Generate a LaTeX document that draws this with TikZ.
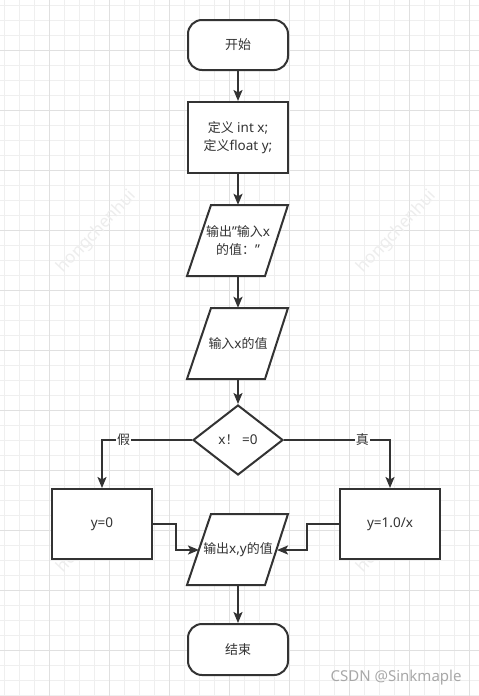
\documentclass[tikz,border=0pt]{standalone}
\usepackage{fontspec}
\setmainfont{Noto Sans}
\newfontfamily\cjk{Noto Sans CJK SC}[Scale=0.96]
\usetikzlibrary{arrows.meta,shapes.geometric}
\definecolor{ink}{HTML}{333333}
\definecolor{gridminor}{HTML}{EFEFEF}
\definecolor{gridmajor}{HTML}{E0E0E0}
\definecolor{wmark}{HTML}{EDEDED}
\definecolor{csdn}{HTML}{A8A8A8}
\tikzset{
  shapeline/.style={draw=ink, line width=2pt, fill=white},
  txt/.style={text=ink, font=\fontsize{13.5}{18}\selectfont, align=center},
  terminal/.style={shapeline, txt, rounded corners=14pt, minimum width=100pt, minimum height=50pt},
  procbox/.style={shapeline, txt, minimum width=100pt, minimum height=70pt},
  decision/.style={shapeline, txt, diamond, minimum width=90pt, minimum height=70pt, inner sep=0pt, aspect=1.2857},
  paratext/.style={txt, minimum width=100pt, minimum height=71pt, inner sep=0pt},
  arr/.style={draw=ink, line width=2pt, -{Stealth[length=11pt,width=9pt,inset=2.5pt]}},
  edgelabel/.style={fill=white, text=ink, font=\fontsize{13.5}{14}\selectfont\cjk, inner sep=1pt},
  wm/.style={text=wmark, font=\fontsize{17}{17}\selectfont, rotate=46.5}
}
\begin{document}
\begin{tikzpicture}[x=1pt,y=-1pt]
\useasboundingbox (0,0) rectangle (479,696);
\fill[white] (0,0) rectangle (479,696);
% grid
\foreach \x in {4,19,...,479} \draw[gridminor, line width=1pt] (\x,0) -- (\x,696);
\foreach \y in {5,20,...,696} \draw[gridminor, line width=1pt] (0,\y) -- (479,\y);
\foreach \x in {49,109,...,479} \draw[gridmajor, line width=1pt] (\x,0) -- (\x,696);
\foreach \y in {50,110,...,696} \draw[gridmajor, line width=1pt] (0,\y) -- (479,\y);
% faint watermarks
\node[wm] at (97,232) {hongchenhui};
\node[wm] at (397,232) {hongchenhui};
\node[wm] at (97,532) {hongchenhui};
\node[wm] at (397,532) {hongchenhui};

% parallelogram outlines
\foreach \cy in {240.5,343.5,549.5}
  \draw[shapeline, line join=miter] (211,\cy-35.5) -- (288,\cy-35.5) -- (265,\cy+35.5) -- (187,\cy+35.5) -- cycle;

% nodes
\node[terminal] (start) at (238,45) {{\cjk 开始}};
\node[procbox, minimum height=71pt] (def) at (238,137.5) {{\cjk 定义} int x;\\{\cjk 定义}float y;};
\node[paratext] (p1) at (238,240.5) {{\cjk 输出}"{\cjk 输入}x\\{\cjk 的值：}"};
\node[paratext] (p2) at (238,343.5) {{\cjk 输入}x{\cjk 的值}};
\node[decision] (dec) at (238,440) {x{\cjk ！} =0};
\node[procbox] (L) at (102,524) {y=0};
\node[procbox] (R) at (390,524) {y=1.0/x};
\node[paratext] (p3) at (238,549.5) {{\cjk 输出}x,y{\cjk 的值}};
\node[terminal, minimum height=51pt] (end) at (238,649.5) {{\cjk 结束}};
\coordinate (p3l) at (199,550);
\coordinate (p3r) at (277,550);

% connectors
\draw[arr] (start.south) -- (def.north);
\draw[arr] (def.south) -- (p1.north);
\draw[arr] (p1.south) -- (p2.north);
\draw[arr] (p2.south) -- (dec.north);
\draw[arr] (dec.west) -| node[edgelabel, pos=0.38] {假} (L.north);
\draw[arr] (dec.east) -| node[edgelabel, pos=0.37] {真} (R.north);
\draw[arr] (L.east) -- ++(23,0) |- (p3l);
\draw[arr] (R.west) -- ++(-32,0) |- (p3r);
\draw[arr] (p3.south) -- (end.north);

% footer watermark
\node[text=csdn, font=\fontsize{15}{15}\selectfont, anchor=east] (csdn) at (465,678) {CSDN @Sinkmaple};
\end{tikzpicture}
\end{document}
